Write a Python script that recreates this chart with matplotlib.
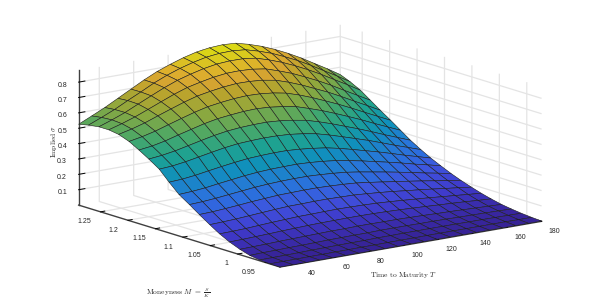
import matplotlib
matplotlib.use('Agg')
import matplotlib.pyplot as plt
from matplotlib.colors import LinearSegmentedColormap
import numpy as np

# time to maturity, moneyness, implied vol
maturity = [28, 35.6, 43.2, 50.8, 58.4, 66, 73.6, 81.2, 88.8, 96.4, 104, 111.6, 119.2, 126.8, 134.4, 142, 149.6, 157.2, 164.8, 172.4, 180]
moneyness = [0.923, 0.941, 0.960, 0.978, 0.996, 1.015, 1.033, 1.051, 1.070, 1.088, 1.107, 1.125, 1.143, 1.162, 1.180, 1.198, 1.217, 1.235, 1.253, 1.272, 1.290]
implied = [
    [.000,.000,.000,.001,.001,.001,.001,.001,.001,.001,.002,.002,.002,.002,.002,.002,.002,.002,.002,.002,.002],
    [.001,.002,.002,.003,.003,.004,.004,.005,.005,.006,.006,.006,.007,.007,.007,.007,.007,.007,.007,.006,.006],
    [.005,.006,.007,.008,.010,.011,.012,.013,.013,.015,.015,.016,.016,.016,.016,.016,.015,.015,.014,.013,.012],
    [.015,.018,.019,.021,.022,.024,.026,.027,.028,.028,.030,.030,.030,.029,.029,.028,.026,.025,.024,.022,.020],
    [.035,.037,.039,.042,.044,.046,.048,.050,.050,.052,.052,.051,.051,.049,.047,.044,.042,.039,.036,.033,.030],
    [.062,.064,.067,.070,.074,.077,.080,.082,.083,.084,.084,.083,.081,.078,.074,.070,.065,.061,.056,.050,.045],
    [.095,.097,.100,.105,.110,.114,.118,.119,.121,.122,.121,.119,.116,.111,.105,.098,.092,.084,.077,.069,.062],
    [.135,.138,.142,.148,.154,.160,.165,.166,.168,.168,.166,.164,.158,.151,.143,.133,.124,.114,.103,.093,.082],
    [.180,.183,.189,.196,.204,.210,.216,.218,.220,.220,.217,.213,.207,.196,.184,.171,.159,.146,.132,.118,.105],
    [.225,.229,.236,.245,.254,.263,.269,.273,.275,.275,.271,.265,.257,.244,.229,.214,.198,.181,.163,.147,.130],
    [.270,.275,.283,.295,.306,.317,.325,.330,.332,.333,.329,.322,.312,.297,.280,.261,.242,.222,.200,.180,.160],
    [.330,.335,.345,.359,.372,.384,.394,.399,.402,.402,.396,.387,.375,.357,.335,.312,.289,.264,.238,.214,.190],
    [.395,.401,.413,.429,.445,.460,.471,.476,.479,.478,.473,.462,.447,.424,.398,.371,.344,.314,.283,.254,.225],
    [.440,.449,.463,.482,.501,.519,.533,.541,.545,.546,.540,.529,.514,.489,.461,.430,.399,.366,.331,.298,.265],
    [.479,.490,.508,.532,.554,.576,.593,.603,.611,.614,.609,.598,.583,.556,.527,.494,.459,.423,.384,.347,.310],
    [.515,.531,.552,.579,.605,.630,.651,.664,.674,.679,.676,.667,.651,.624,.592,.556,.519,.479,.437,.396,.355],
    [.540,.560,.585,.616,.646,.675,.700,.716,.729,.737,.736,.729,.714,.686,.653,.615,.577,.534,.489,.445,.400],
    [.550,.575,.604,.638,.673,.707,.736,.756,.773,.784,.786,.781,.768,.740,.709,.671,.631,.587,.539,.492,.445],
    [.550,.580,.613,.653,.692,.730,.763,.788,.809,.824,.830,.829,.818,.792,.761,.724,.683,.638,.589,.541,.490],
    [.540,.575,.612,.655,.696,.739,.775,.805,.829,.848,.858,.860,.852,.828,.799,.762,.722,.676,.626,.577,.525],
    [.526,.565,.605,.650,.695,.740,.780,.812,.840,.862,.875,.880,.875,.853,.825,.790,.750,.705,.655,.605,.552],
]
t_ticks = [40, 60, 80, 100, 120, 140, 160, 180]
m_ticks = [0.95, 1, 1.05, 1.1, 1.15, 1.2, 1.25]
m_labels = ['0.95', '1', '1.05', '1.1', '1.15', '1.2', '1.25']
z_ticks = [0.1, 0.2, 0.3, 0.4, 0.5, 0.6, 0.7, 0.8]

parula_stops = [
    (0, (.2422, .1504, .6603)), (.1, (.2783, .2559, .8991)), (.15, (.281, .3228, .9579)),
    (.2, (.2699, .3892, .9906)), (.25, (.1963, .4847, .9892)), (.3, (.1786, .5289, .9682)),
    (.4, (.07, .64, .84)), (.5, (.13, .72, .65)), (.6, (.33, .75, .46)), (.7, (.62, .75, .28)),
    (.8, (.83, .73, .2)), (.85, (.95, .73, .22)), (.9, (.99, .78, .2)), (.95, (.97, .89, .14)),
    (1, (.977, .984, .08))]
# the reference mesh is much denser, so its faces read darker
parula = LinearSegmentedColormap.from_list('parula', [(p, tuple(0.88 * c for c in rgb)) for p, rgb in parula_stops])

plt.rcParams['font.family'] = 'Liberation Sans'
plt.rcParams['mathtext.fontset'] = 'cm'

fig = plt.figure(figsize=(6.0, 3.01), dpi=100)
# square axes around the centre of the box, runs off the figure on purpose
ax = fig.add_axes([(302 - 300) / 600, (147 - 300) / 301, 1, 600 / 301], projection='3d', proj_type='ortho')
ax.patch.set_alpha(0)
ax.view_init(elev=13.4, azim=-127)
ax.set_box_aspect((329, 336, 139), zoom=0.79)

X, Y = np.meshgrid(maturity, moneyness)
ax.plot_surface(X, Y, np.array(implied), rstride=1, cstride=1, cmap=parula, vmin=0, vmax=0.88,
                edgecolor='#1c1c1c', linewidth=0.4, shade=False, antialiased=True)

ax.set_xlim(28, 180, view_margin=0)
ax.set_ylim(0.923, 1.29, view_margin=0)
ax.set_zlim(0, 0.876, view_margin=0)
ax.set_xticks(t_ticks)
ax.set_yticks(m_ticks)
ax.set_yticklabels(m_labels)
ax.set_zticks(z_ticks)
ax.tick_params(labelsize=5, labelcolor='#262626')
ax.tick_params(axis='x', pad=0)
ax.tick_params(axis='y', pad=0)
ax.tick_params(axis='z', pad=0)
for lab in ax.get_xticklabels():
    lab.set_ha('left')
for lab in ax.get_yticklabels():
    lab.set_ha('right')

for axis in [ax.xaxis, ax.yaxis, ax.zaxis]:
    axis.set_pane_color((1, 1, 1, 0))
    axis.pane.set_edgecolor((1, 1, 1, 0))
    axis.line.set_color('#404040')
    axis.line.set_linewidth(1.0)
    axis._axinfo['grid'].update(color='#e4e4e4', linewidth=0.9)
    axis._axinfo['tick'].update(inward_factor=0, outward_factor=0.2, linewidth={True: 0.7, False: 0.5}, color='#262626')
ax.zaxis._axinfo['tick'].update(outward_factor=0.3)

fig.text(404 / 600, 1 - 275 / 301, r'$\mathrm{Time\ to\ Maturity}\ T$', fontsize=5.4, color='#262626', ha='center', va='center')
fig.text(178 / 600, 1 - 293 / 301, r'$\mathrm{Moneyness}\ M\ =\ \frac{S}{K}$', fontsize=5.4, color='#262626', ha='center', va='center')
fig.text(54 / 600, 1 - 141 / 301, r'$\mathrm{Implied}\ \sigma$', fontsize=5.4, color='#262626', rotation=90, ha='center', va='center')

fig.savefig('out.png', dpi=100)
